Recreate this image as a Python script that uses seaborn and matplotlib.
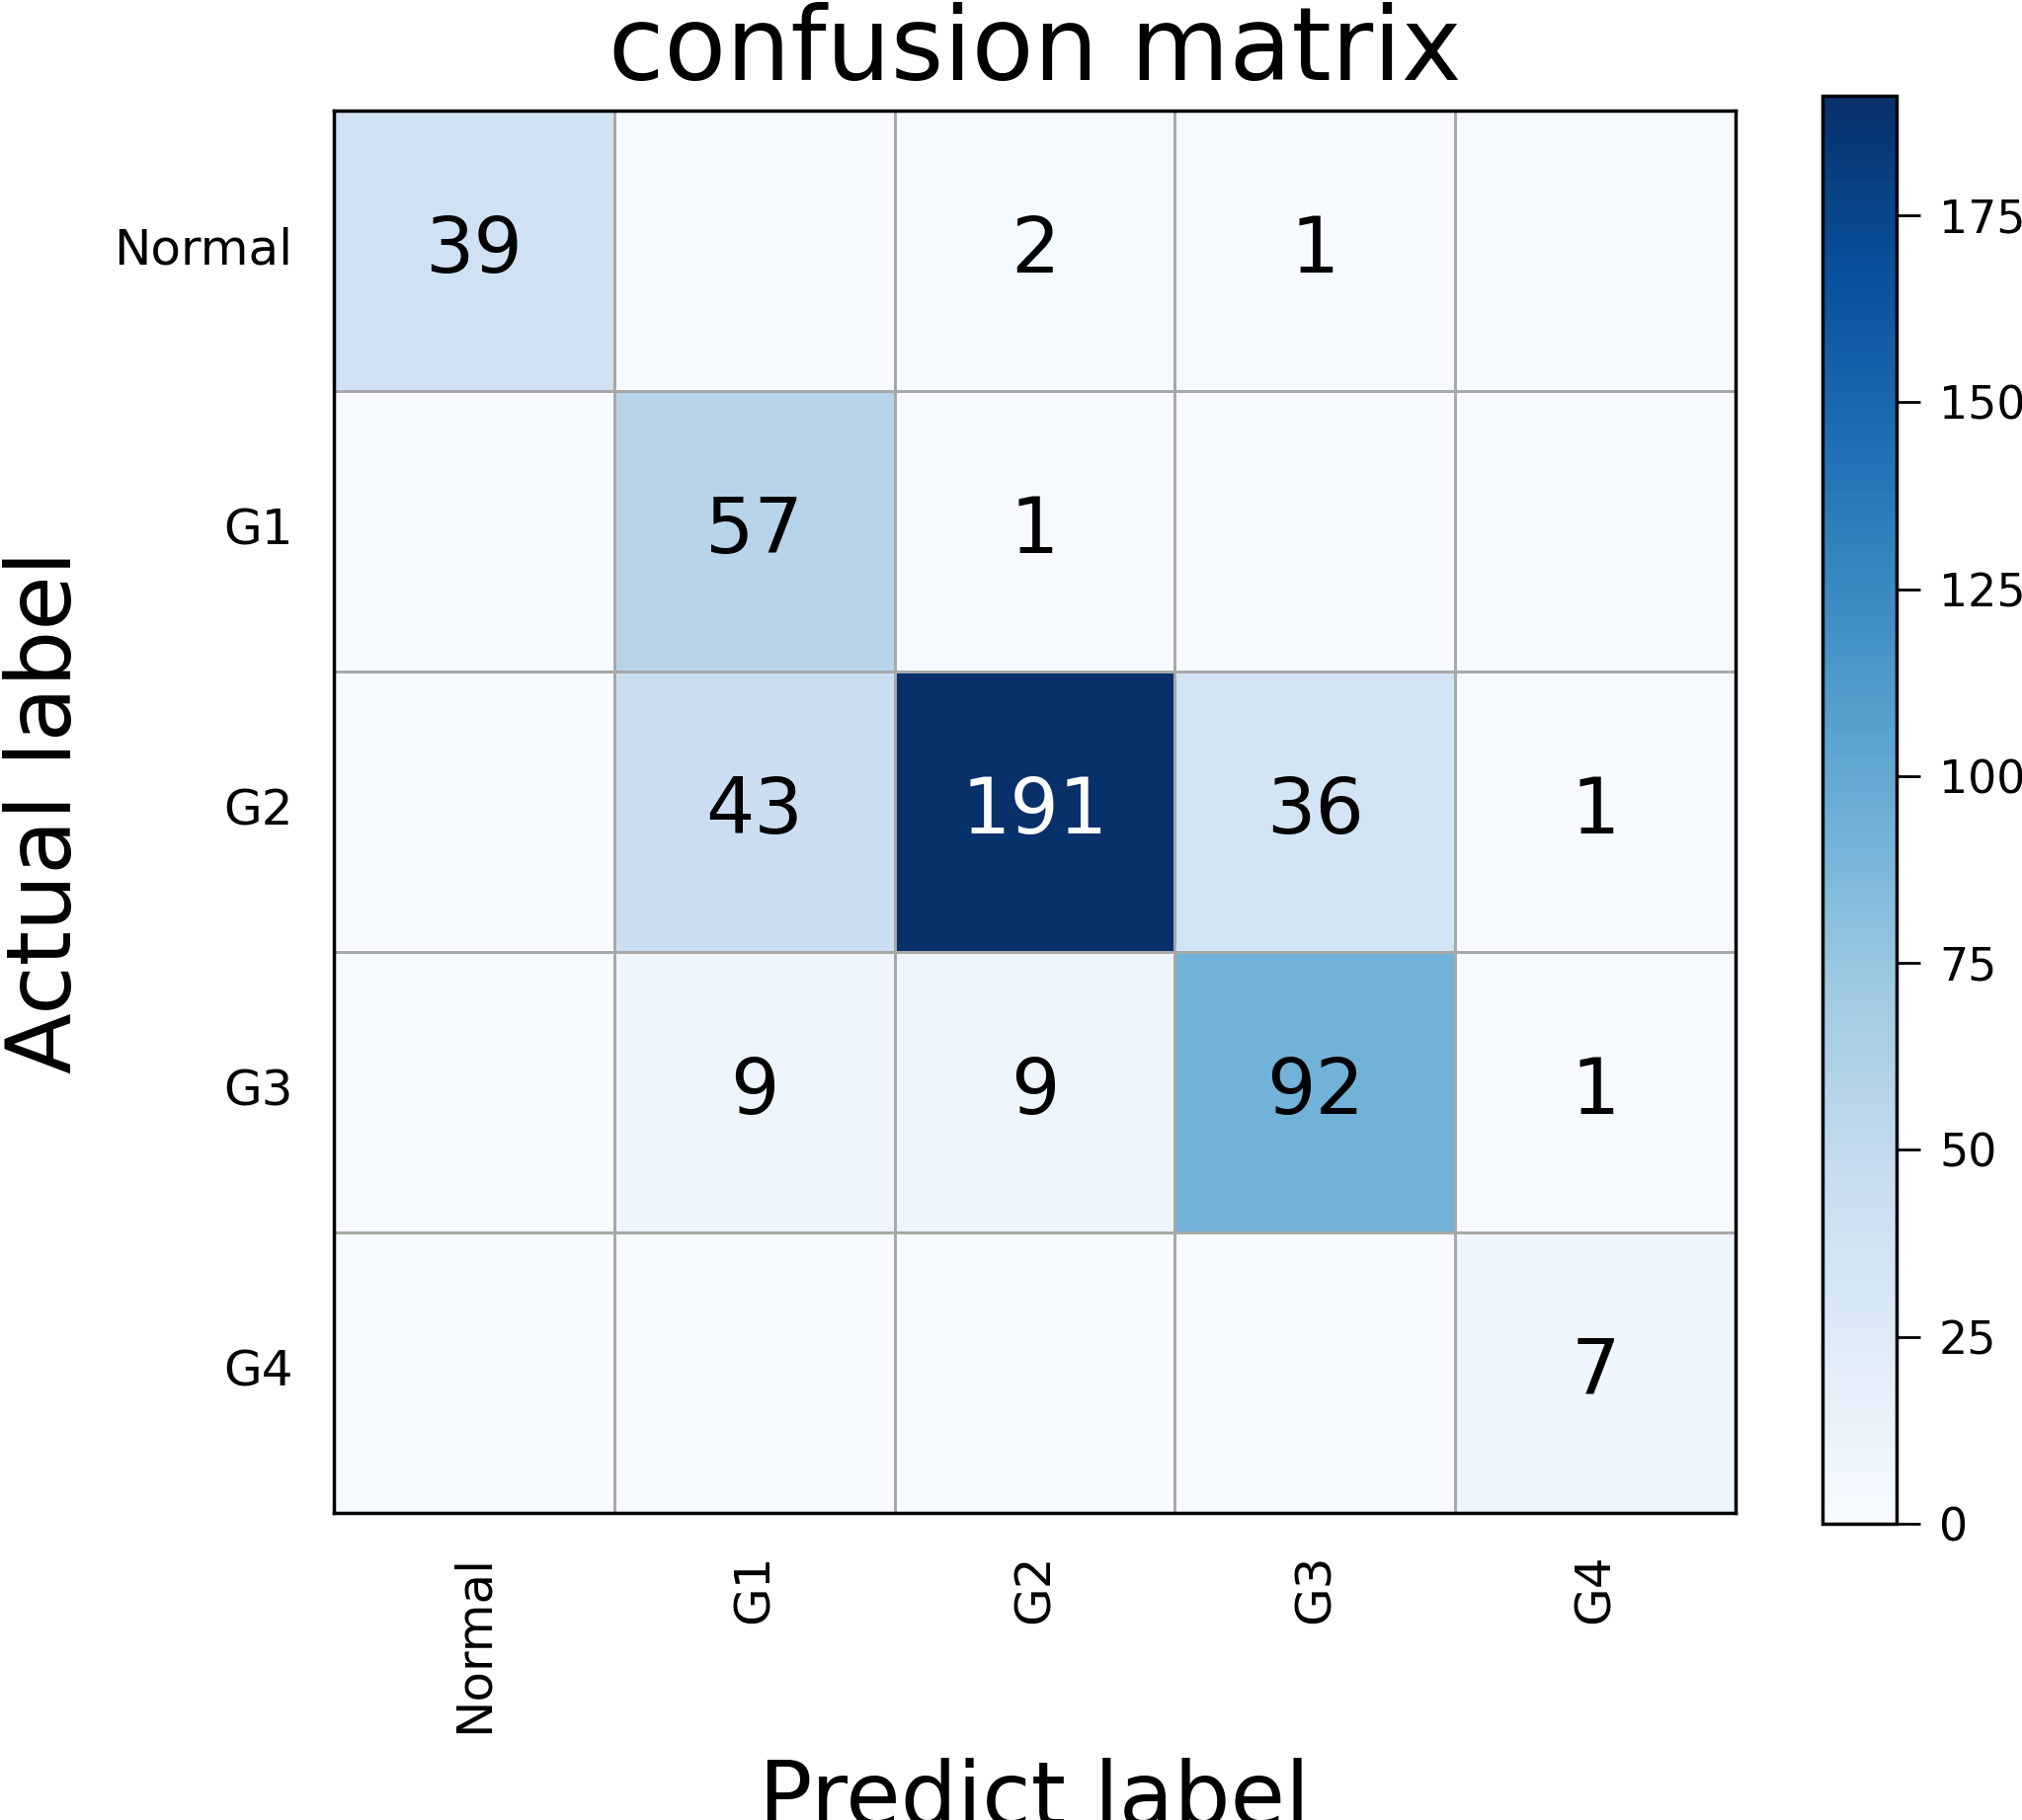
import numpy as np
import pandas as pd
import seaborn as sns
import matplotlib.pyplot as plt

labels = ['Normal', 'G1', 'G2', 'G3', 'G4']
row_normal = [39, 0, 2, 1, 0]
row_g1 = [0, 57, 1, 0, 0]
row_g2 = [0, 43, 191, 36, 1]
row_g3 = [0, 9, 9, 92, 1]
row_g4 = [0, 0, 0, 0, 7]

cm = pd.DataFrame([row_normal, row_g1, row_g2, row_g3, row_g4],
                  index=labels, columns=labels)

# empty cells for zeros, like the original
annot = cm.astype(str).where(cm != 0, '')

sns.set_style('white')
plt.rcParams['font.family'] = ['DejaVu Sans']
plt.rcParams['text.color'] = 'black'
plt.rcParams['axes.labelcolor'] = 'black'
plt.rcParams['xtick.color'] = 'black'
plt.rcParams['ytick.color'] = 'black'

fig = plt.figure(figsize=(20.47, 18.43), dpi=100)
ax = fig.add_axes([338 / 2047, 1 - 1532 / 1843, 1419 / 2047, 1420 / 1843])
cax = fig.add_axes([1845 / 2047, 1 - 1543 / 1843, 75 / 2047, 1446 / 1843])

sns.heatmap(cm, ax=ax, cbar_ax=cax, cmap='Blues', vmin=0, vmax=cm.values.max(),
            annot=annot.values, fmt='', annot_kws={'fontsize': 56},
            linewidths=2, linecolor='#a8a8a8', square=False)

# text colour: white on the dark cell, black elsewhere
thresh = cm.values.max() / 2
for t, v in zip(ax.texts, cm.values.ravel()):
    t.set_color('white' if v > thresh else 'black')

for s in ax.spines.values():
    s.set_visible(True)
    s.set_color('black')
    s.set_linewidth(2.5)

ax.set_title('confusion matrix', fontsize=74, pad=22)
ax.set_xlabel('Predict label', fontsize=65)
ax.set_ylabel('Actual label', fontsize=65)
ax.xaxis.set_label_coords(0.5, -0.175)
ax.yaxis.set_label_coords(-0.174, 0.5)

ax.set_xticklabels(labels, rotation=90, fontsize=36)
ax.set_yticklabels(labels, rotation=0, fontsize=36)
ax.tick_params(axis='both', length=0, pad=30)

cbar = ax.collections[0].colorbar
cbar.set_ticks([0, 25, 50, 75, 100, 125, 150, 175])
cbar.outline.set_visible(True)
cbar.outline.set_edgecolor('black')
cbar.outline.set_linewidth(2.5)
cax.tick_params(labelsize=33, length=17, width=2, pad=14, color='black')

fig.savefig('out.png', dpi=100)
